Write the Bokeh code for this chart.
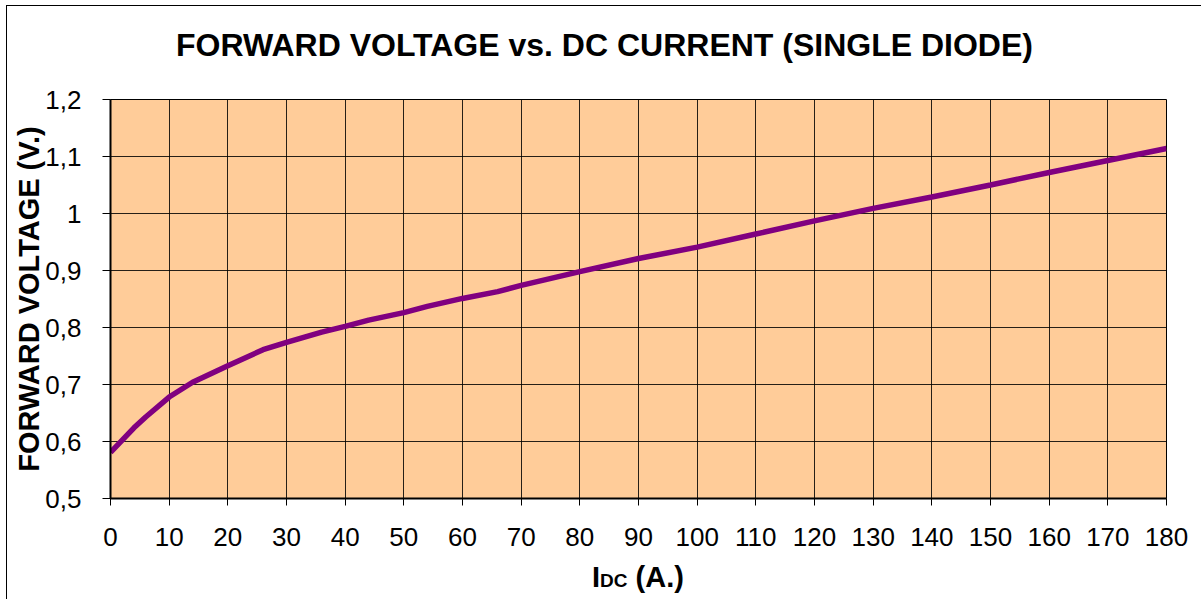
from bokeh.plotting import figure
from bokeh.models import Range1d, FixedTicker, Div
from bokeh.layouts import column
from bokeh.embed import file_html
from bokeh.resources import INLINE

current = [0, 4, 6, 10, 14, 20, 26, 30, 36, 40, 44, 50, 54, 60, 66, 70, 80, 90, 100, 110, 120, 130, 140, 150, 160, 170, 180]
voltage = [0.581, 0.624, 0.643, 0.678, 0.704, 0.733, 0.761, 0.774, 0.792, 0.802, 0.813, 0.826, 0.837, 0.851, 0.863, 0.874, 0.898, 0.921, 0.941, 0.964, 0.987, 1.009, 1.029, 1.050, 1.072, 1.093, 1.114]

x_ticks = list(range(0, 181, 10))
y_ticks = [0.5, 0.6, 0.7, 0.8, 0.9, 1.0, 1.1, 1.2]
y_tick_labels = ["0,5", "0,6", "0,7", "0,8", "0,9", "1", "1,1", "1,2"]

title_text = "FORWARD VOLTAGE vs. DC CURRENT (SINGLE DIODE)"
y_label = "FORWARD VOLTAGE (V.)"
x_label_main = "I"
x_label_sub = "DC"
x_label_unit = "(A.)"

FONT = "Liberation Sans"

title_div = Div(
    text=title_text,
    width=1193, height=40, margin=(25, 0, 0, 8),
    styles={"font-family": FONT, "font-size": "32px", "font-weight": "bold",
            "text-align": "center", "line-height": "40px", "color": "black",
            "white-space": "nowrap"},
)

p = figure(width=1201, height=496, output_backend="svg", toolbar_location=None, title=None,
           x_range=Range1d(0, 180), y_range=Range1d(0.5, 1.2),
           min_border_left=110, min_border_top=34, min_border_right=35, min_border_bottom=63)

p.background_fill_color = "#FFCC99"
p.border_fill_color = "white"
p.outline_line_color = "black"
p.outline_line_width = 1

p.xaxis.ticker = FixedTicker(ticks=x_ticks)
p.yaxis.ticker = FixedTicker(ticks=y_ticks)
p.yaxis.major_label_overrides = {v: s for v, s in zip(y_ticks, y_tick_labels)}
p.xaxis.major_label_overrides = {v: str(v) for v in x_ticks}

for ax in (p.xaxis, p.yaxis):
    ax.axis_line_color = "black"
    ax.axis_line_width = 2
    ax.major_tick_line_color = "black"
    ax.major_tick_in = 0
    ax.minor_tick_line_color = None
    ax.major_label_text_font = FONT
    ax.major_label_text_font_size = "26px"
    ax.major_label_text_color = "black"

p.yaxis.major_tick_out = 8
p.xaxis.major_tick_out = 7
p.yaxis.major_label_standoff = 21
p.xaxis.major_label_standoff = 22

p.yaxis.axis_label = y_label
p.yaxis.axis_label_text_font = FONT
p.yaxis.axis_label_text_font_size = "29px"
p.yaxis.axis_label_text_font_style = "bold"
p.yaxis.axis_label_text_color = "black"
p.yaxis.axis_label_standoff = -3

p.xgrid.ticker = FixedTicker(ticks=x_ticks)
p.ygrid.ticker = FixedTicker(ticks=y_ticks)
p.grid.grid_line_color = "black"
p.grid.grid_line_width = 1
p.grid.grid_line_alpha = 0.85

p.line(current, voltage, line_color="#800080", line_width=5.5)

xlabel = Div(
    text=(f'<span>{x_label_main}</span>'
          f'<span style="font-size:19px">{x_label_sub}</span>'
          f'<span> {x_label_unit}</span>'
          '<div style="position:fixed; left:6px; top:5px; width:3000px; height:3000px; '
          'border-left:1px solid black; border-top:1px solid black; pointer-events:none;"></div>'),
    width=1056, height=32, margin=(0, 0, 0, 110),
    styles={"font-family": FONT, "font-size": "29px", "font-weight": "bold",
            "text-align": "center", "line-height": "32px", "color": "black"},
)

layout = column(title_div, p, xlabel, spacing=0)

open("out.html", "w").write(file_html(layout, INLINE))
